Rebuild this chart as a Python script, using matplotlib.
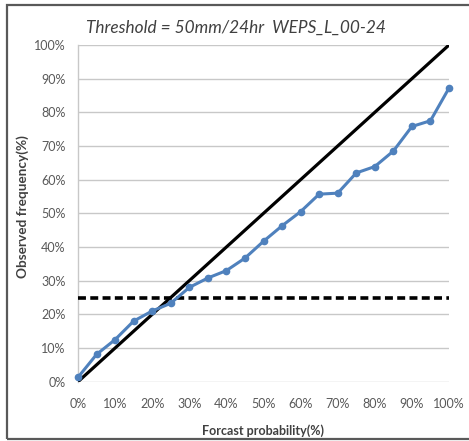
import matplotlib
matplotlib.use("Agg")
import matplotlib.pyplot as plt
from matplotlib.patches import Rectangle

# Data
forecast_prob = [0, 5, 10, 15, 20, 25, 30, 35, 40, 45, 50, 55, 60, 65, 70, 75, 80, 85, 90, 95, 100]
observed_freq = [1.3, 8.1, 12.5, 18.0, 21.0, 23.3, 28.0, 30.8, 33.0, 36.7, 41.7, 46.3, 50.5, 55.7, 56.0,
                 62.0, 63.9, 68.5, 75.8, 77.5, 87.2]
perfect = [0, 100]
climatology = 25
ticks = [0, 10, 20, 30, 40, 50, 60, 70, 80, 90, 100]
tick_labels = [f"{t}%" for t in ticks]
title = "Threshold = 50mm/24hr  WEPS_L_00-24"
xlabel = "Forcast probability(%)"
ylabel = "Observed frequency(%)"

W, H = 469, 441
fig = plt.figure(figsize=(W / 100, H / 100), dpi=100)
plt.rcParams['font.family'] = ['Lato', 'DejaVu Sans']

ax = fig.add_axes([78 / W, (H - 381.7) / H, (449 - 78) / W, (381.7 - 45) / H])
ax.set_xlim(0, 100)
ax.set_ylim(0, 100)

for t in ticks:
    ax.axhline(t, color="#C8C8C8", lw=1.0, zorder=1)

ax.plot(perfect, perfect, color="black", lw=2.3, zorder=3, solid_capstyle="butt")
ax.axhline(climatology, color="black", lw=2.6, ls=(0, (2.2, 1.2)), zorder=3)
ax.plot(forecast_prob, observed_freq, color="#4F81BD", lw=2.2, marker="o", ms=4.5,
        zorder=4, clip_on=False)

for s in ["top", "right", "bottom"]:
    ax.spines[s].set_visible(False)
ax.spines["left"].set_color("#C8C8C8")
ax.spines["left"].set_linewidth(1.0)

ax.set_xticks(ticks)
ax.set_xticklabels(tick_labels)
ax.set_yticks(ticks)
ax.set_yticklabels(tick_labels)
ax.tick_params(axis="both", length=0, labelsize=9, colors="#595959")
ax.tick_params(axis="y", pad=9)
ax.tick_params(axis="x", pad=12)

fig.text(86 / W, 1 - 28 / H, title, ha="left", va="center", fontsize=12.4, style="italic",
         color="#404040")
fig.text(263 / W, 1 - 431 / H, xlabel, ha="center", va="center", fontsize=9,
         fontweight="bold", color="#404040")
fig.text(23 / W, 1 - 207 / H, ylabel, ha="center", va="center", fontsize=9.8,
         fontweight="bold", color="#404040", rotation=90)

fig.patches.append(Rectangle((7 / W, 1 - 439 / H), (475 - 7) / W, (439 - 5) / H,
                             transform=fig.transFigure, fill=False, ec="#595959", lw=1.6))

fig.savefig("out.png", dpi=100)
